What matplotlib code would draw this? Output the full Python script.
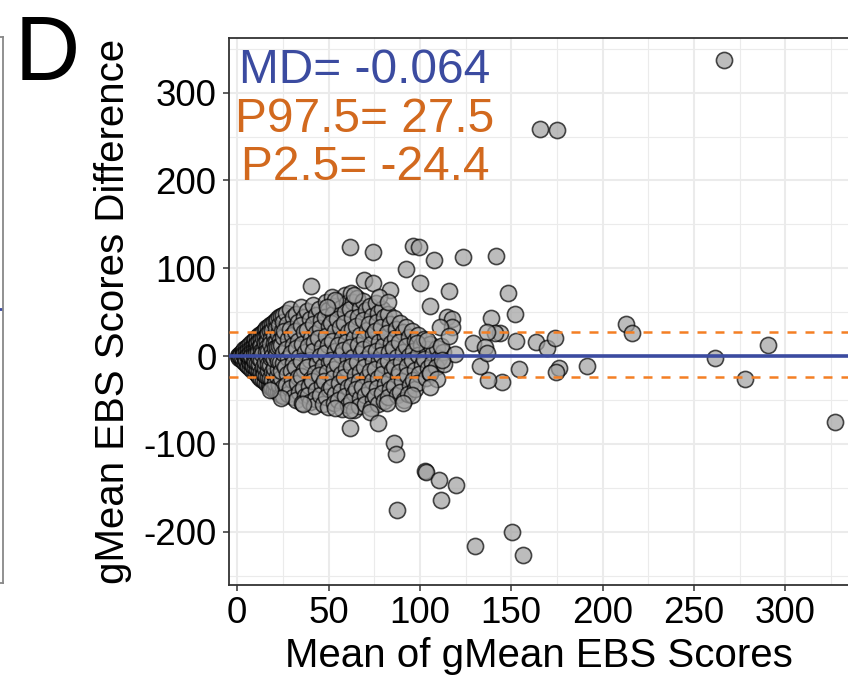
import matplotlib
matplotlib.use("Agg")
import matplotlib.pyplot as plt
from matplotlib.ticker import MultipleLocator

plt.rcParams['font.family'] = ['Liberation Sans', 'DejaVu Sans']
plt.rcParams['axes.unicode_minus'] = False

# Bland-Altman summary values
md = -0.064
p975 = 27.5
p025 = -24.4

# (mean, difference) points
# dense wedge near zero, |diff| <= 2 * mean
wedge_pts = [
    (0.5, 0), (1, 1.5), (1.2, -1.8), (2, 3.5), (2.2, -3.8), (1.8, 0.5),
    (3, 5.5), (3.2, -5.6), (2.8, -1), (3.1, 2.2),
    (4, 7.6), (4.1, -7.5), (3.9, 3.4), (4.2, -2.6),
    (5, 9.5), (5.2, -9.8), (4.8, 4.8), (5.1, -4.2), (5.3, 0.6),
    (6, 11.5), (6.1, -11.6), (5.9, 6.4), (6.3, -5.8), (6.2, 1.2),
    (7, 13.5), (7.2, -13.6), (7.1, 8.4), (6.8, -7.6), (7.3, 3.1), (7, -1.7),
    (8, 15.6), (8.1, -15.4), (8.2, 10), (7.9, -9.6), (8.1, 5.2), (8.3, -3.8), (7.8, 0.4),
    (9, 17.5), (9.2, -17.6), (9.1, 12.2), (8.9, -11.4), (9.3, 6.6), (9, -4.6), (9.2, 1.8),
    (10, 19.6), (10.1, -19.4), (10.2, 14), (9.9, -12.8), (10.3, 8.2), (10, -6.4), (10.2, 2.9),
    (11, 21.5), (11.2, -21.6), (11.1, 15.4), (10.9, -14.6), (11.3, 9.4), (11, -8.2), (11.2, 4.1),
    (12, 23.5), (12.1, -23.4), (12.2, 17.1), (11.9, -16.2), (12.3, 11), (12, -9.4), (12.1, -2.5),
    (13, 25.4), (13.2, -25.6), (13.1, 19.2), (12.9, -18.1), (13.3, 12.4), (13.2, 6.2), (13.1, -4.2),
    (14, 27.5), (14.1, -27.4), (14.2, 20.4), (13.9, -19.2), (14, -12.4), (14.2, 7.3), (13.8, 2.2),
    (15, 29.4), (15.2, -29.6), (15.1, 22.2), (14.9, -20.4), (15.3, 15.2), (15, -13.3), (15.1, -6.4),
    (16, 31.5), (16.1, -31.4), (16.2, 24.1), (15.9, -22.3), (16.3, 17.2), (16.2, 10.2), (15.8, 4.4), (16.3, -1.2),
    (17, 33.4), (17.2, -33.5), (17.1, 26.2), (16.9, -24.1), (17, -16.3), (17.1, -9.2), (16.8, 5.2),
    (18, 35.4), (18.1, -35.3), (18.2, 28.1), (17.9, -25.4), (18.3, 20.2), (18.2, 13.2), (18.1, -10.4), (18.3, -2.1),
    (19, 36.8), (19.2, -36.4), (19.1, 29.3), (18.9, -27.2), (19, -18.3), (18.8, 7.4), (19.3, 0.2),
    (20, 38.6), (20.1, -38.2), (20.3, 22.3), (20, -20.1), (20.2, 15.2), (20.1, -13.3), (20.3, -3.2),
    (21, 40.4), (21.2, -39.6), (21.1, 32.3), (20.9, -30.2), (21.2, 16.3), (20.8, 9.2), (21.3, 1.1),
    (22, 42.2), (22.1, -41.3), (22.3, 25.2), (22, -22.4), (22.1, -15.3), (21.8, 10.3), (22.3, -5.1),
    (23, 44.1), (23.2, -42.6), (23.1, 35.2), (22.9, -33.1), (23.2, 18.3), (22.8, 11.2), (23.3, -6.3),
    (24, 45.6), (24.1, -44.2), (24.3, 28.1), (24, -25.3), (24.1, -17.4), (23.8, 12.3),
    (25, 47.2), (25.2, -45.1), (25.1, 38.2), (24.9, -35.4), (25.2, 21.3), (25.3, -8.1), (25.1, 3.2),
]

# main body of the cloud, mean 26 to 113
body_pts = [
    (26.5, 49), (27.2, 37), (25.9, 28), (27.6, 19), (26.8, 8), (27.9, -2), (26.3, -13), (27.4, -21), (26.7, -33), (27.8, -43),
    (29.1, 53), (30.3, 44), (28.8, 31), (29.9, 24), (30.6, 12), (29.3, 4), (30.8, -8), (29.6, -17), (30.2, -27), (28.9, -36), (30.7, -47),
    (32.4, 48), (33.1, 39), (31.8, 29), (33.5, 17), (32.2, 9), (33.8, -1), (31.9, -12), (33.3, -24), (32.6, -31), (33.9, -41), (32.1, -50),
    (35.2, 56), (36.4, 45), (34.9, 35), (36.8, 27), (35.5, 14), (37.1, 5), (35.1, -6), (36.6, -16), (34.8, -23), (36.2, -36), (37.3, -45), (35.7, -53),
    (38.5, 51), (39.6, 42), (38.1, 30), (40.2, 20), (38.8, 11), (39.9, -4), (38.4, -13), (40.5, -26), (39.2, -34), (38.6, -44), (40.1, -52),
    (41.7, 58), (42.9, 47), (41.3, 37), (43.4, 26), (42.2, 16), (41.6, 6), (43.7, -8), (42.4, -19), (41.1, -29), (43.1, -39), (42.7, -49), (41.9, -57),
    (44.8, 53), (46.1, 41), (45.3, 32), (44.5, 21), (46.6, 10), (45.1, 0), (46.9, -11), (44.7, -22), (46.3, -33), (45.6, -44), (47.1, -55),
    (48.4, 62), (49.6, 52), (47.9, 44), (50.1, 34), (48.8, 23), (49.9, 13), (48.2, 3), (50.4, -7), (49.1, -18), (47.6, -28), (50.2, -37), (48.7, -47), (49.8, -58),
    (51.9, 67), (53.2, 57), (52.5, 48), (51.4, 38), (53.8, 28), (52.1, 17), (53.5, 6), (51.6, -4), (53.1, -15), (52.4, -25), (51.2, -35), (53.6, -43), (52.8, -54),
    (55.4, 63), (56.8, 55), (54.9, 42), (56.2, 33), (57.3, 21), (55.1, 12), (56.6, 1), (54.7, -9), (57.1, -20), (55.8, -31), (56.9, -40), (55.3, -50), (57.4, -60),
    (58.8, 70), (60.1, 60), (59.2, 50), (58.4, 38), (60.6, 27), (59.5, 16), (58.1, 7), (60.9, -3), (59.3, -14), (58.6, -24), (60.4, -35), (59.1, -45), (60.7, -56),
    (62.3, 72), (63.6, 62), (61.9, 53), (63.1, 43), (62.6, 31), (64.2, 20), (61.7, 10), (63.4, -1), (62.1, -11), (64.5, -22), (62.8, -33), (63.9, -42), (62.2, -51), (64.1, -61),
    (65.7, 66), (67.1, 55), (66.3, 45), (65.2, 34), (67.5, 24), (66.1, 13), (67.8, 3), (65.6, -7), (67.2, -18), (66.5, -29), (65.3, -38), (67.4, -48), (66.8, -57),
    (69.1, 63), (70.4, 52), (68.7, 41), (70.8, 30), (69.5, 19), (68.9, 8), (70.6, -3), (69.2, -13), (71.1, -24), (68.6, -35), (70.2, -44), (69.7, -55),
    (72.5, 57), (73.8, 46), (72.1, 36), (74.2, 25), (73.1, 14), (72.7, 4), (74.5, -6), (72.9, -17), (73.6, -28), (72.3, -38), (74.1, -49), (73.4, -59),
    (75.9, 60), (77.2, 49), (76.4, 39), (75.5, 28), (77.6, 16), (76.1, 6), (77.9, -4), (75.7, -15), (77.3, -25), (76.6, -36), (75.3, -46), (77.1, -55),
    (79.4, 54), (80.6, 44), (78.9, 33), (80.9, 22), (79.7, 11), (78.6, 1), (80.3, -10), (79.1, -21), (81.1, -32), (79.5, -42), (80.1, -51),
    (82.5, 48), (83.8, 37), (82.1, 26), (84.2, 15), (83.1, 5), (82.7, -6), (84.5, -16), (82.9, -27), (83.6, -38), (82.3, -47),
    (85.9, 43), (87.2, 31), (86.4, 20), (85.5, 9), (87.6, -1), (86.1, -12), (87.9, -23), (85.7, -34), (87.3, -44),
    (89.2, 38), (90.5, 27), (88.8, 16), (90.9, 5), (89.5, -7), (88.6, -18), (90.3, -29), (89.1, -41), (91.1, -50),
    (92.6, 33), (93.9, 22), (92.2, 11), (94.3, 0), (93.1, -11), (92.7, -22), (94.5, -33), (93.3, -43),
    (95.8, 28), (97.1, 17), (96.4, 6), (95.5, -5), (97.6, -16), (96.1, -27), (97.3, -38),
    (99.2, 24), (100.5, 12), (98.8, 1), (100.9, -10), (99.5, -21), (98.6, -31),
    (102.4, 19), (103.7, 8), (102.1, -3), (104.2, -14), (103.1, -25),
    (105.8, 14), (107.1, 3), (106.4, -8), (105.5, -19),
    (109.3, 9), (110.6, -2), (108.9, -12),
    (112.4, 5), (113.1, -9),
]

# scattered points away from the cloud
sparse_pts = [
    (266.7, 337), (166, 258.5), (175, 257.8),
    (96, 125), (99.8, 123.8), (107.8, 109), (123.5, 113), (141.6, 114), (61.9, 124.5), (74.6, 118.8),
    (92.3, 99), (100.2, 82.8), (115.7, 74), (148.5, 72), (105.3, 57), (40.3, 80), (69.5, 86.6),
    (74.6, 82.8), (83.7, 75), (77.9, 67.5), (82.8, 61.9), (63.7, 69.5), (53.6, 63.8), (49, 56),
    (114.8, 44.8), (117.5, 42), (139, 43), (152, 48), (212.7, 36.4), (216, 25.8), (117.5, 33),
    (152.5, 17.5), (163.7, 16.3), (169.5, 8.7), (174, 20.9), (144, 26.5), (141.2, 25.8),
    (136.7, 27.7), (129.3, 14.4), (135.7, 10.6), (111, 33.4), (98.4, 14.8), (104, 18.6), (111.4, 11.4), (116, 22.8),
    (154.5, -14.8), (176.4, -14), (174.6, -18.6), (191.7, -11), (144.9, -29.2), (137.5, -27.3),
    (261.6, -1.9), (278, -26.2), (290.4, 12.5), (327, -75.5),
    (119.3, 2.3), (112, -4.6), (133, -11.4), (136.7, 3), (105.3, -19), (109.5, -26), (105.6, -35),
    (95.6, -44.4), (91, -54), (82, -53), (72.8, -63.4), (77.3, -76.5), (62, -82.4), (61.9, -61.5),
    (53.6, -59.6), (36.3, -54.7), (24.1, -48.2), (18, -38.7),
    (86, -98.7), (87, -112), (102.8, -131), (103.5, -132.5), (110.7, -141.2), (119.9, -147),
    (111.8, -164), (87.5, -175.4), (150.5, -200), (130.4, -216), (156.7, -226.6),
]

all_pts = wedge_pts + body_pts + sparse_pts
mean_vals = [p[0] for p in all_pts]
diff_vals = [p[1] for p in all_pts]

blue = '#3B4BA0'
orange_line = '#F47F24'
orange_text = '#D2691E'
grid_col = '#EBEBEB'
frame_col = '#333333'

fig = plt.figure(figsize=(8.48, 6.75), dpi=100)

# sliver of the neighbouring panel on the left edge
lax = fig.add_axes([-0.3, 0.136, 0.3 + 2.5 / 848, 0.809])
lax.set_xlim(0, 1)
lax.set_ylim(0, 1)
lax.axhline(0.503, color=blue, lw=2)
lax.set_xticks([])
lax.set_yticks([])
for s in lax.spines.values():
    s.set_color('#888888')
    s.set_linewidth(1.3)

ax = fig.add_axes([0.2704, 0.1333, 0.7526, 0.8099])
ax.set_xlim(-4.3, 345)
ax.set_ylim(-260.8, 361.8)

ax.xaxis.set_major_locator(MultipleLocator(50))
ax.xaxis.set_minor_locator(MultipleLocator(25))
ax.yaxis.set_major_locator(MultipleLocator(100))
ax.yaxis.set_minor_locator(MultipleLocator(50))
ax.grid(True, which='major', color=grid_col, lw=1.5, zorder=0)
ax.grid(True, which='minor', color=grid_col, lw=0.8, zorder=0)
ax.set_axisbelow(True)

ax.tick_params(which='major', length=4.3, width=1.1, color=frame_col,
               labelsize=26.5, labelcolor='black')
ax.tick_params(axis='x', which='major', pad=3.5)
ax.tick_params(axis='y', which='major', pad=5)
ax.tick_params(which='minor', length=0)
for s in ax.spines.values():
    s.set_color(frame_col)
    s.set_linewidth(1.3)

ax.scatter(mean_vals, diff_vals, s=135, facecolor='#A0A0A0', edgecolor='black',
           linewidths=1.2, alpha=0.7, zorder=2)

ax.axhline(md, color=blue, lw=2.6, zorder=3)
ax.axhline(p975, color=orange_line, lw=1.8, ls=(0, (3.6, 3.6)), zorder=3)
ax.axhline(p025, color=orange_line, lw=1.8, ls=(0, (3.6, 3.6)), zorder=3)

ax.text(70, 311, f"MD= {md}", color=blue, fontsize=34.5, ha='center', va='baseline', zorder=4)
ax.text(70, 255, f"P97.5= {p975}", color=orange_text, fontsize=34.5, ha='center', va='baseline', zorder=4)
ax.text(70, 200.5, f"P2.5= {p025}", color=orange_text, fontsize=34.5, ha='center', va='baseline', zorder=4)

fig.text(539 / 848, 0.0119, 'Mean of gMean EBS Scores', fontsize=29,
         ha='center', va='baseline')
fig.text(113.5 / 848, 0.5384, 'gMean EBS Scores Difference', fontsize=29,
         rotation=90, ha='center', va='center')
fig.text(15 / 848, 0.8815, 'D', fontsize=65, ha='left', va='baseline')

fig.savefig('out.png', dpi=100)
